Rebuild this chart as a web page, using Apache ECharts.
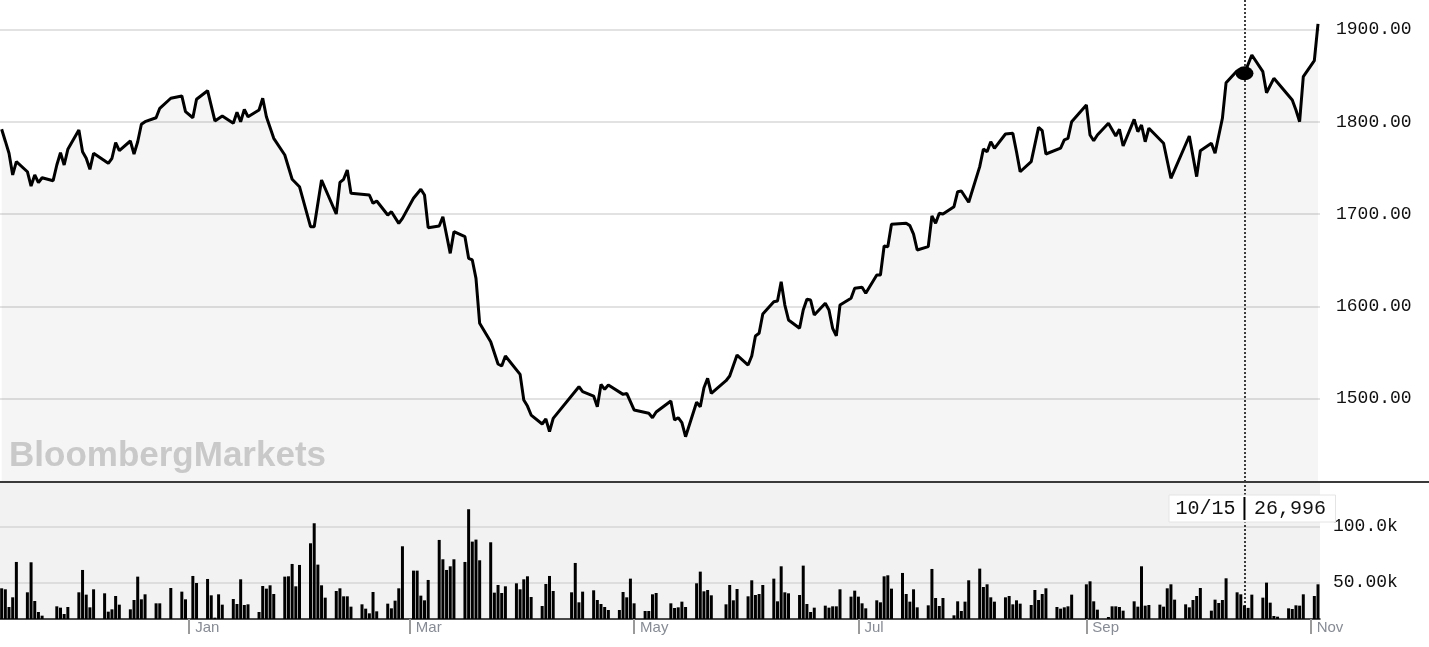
<!DOCTYPE html>
<html><head><meta charset="utf-8">
<script src="https://cdn.jsdelivr.net/npm/echarts@6/dist/echarts.min.js"></script>
<style>html,body{margin:0;padding:0;background:#fff}#c{width:1429px;height:647px}</style>
</head><body><div id="c"></div>
<script>
// ---------- data ----------
const firstMonday = [2019, 10, 11];           // 11 Nov 2019, weeks run Mon..Fri
// closing price per weekday (null = no visible vertex / holiday)
const priceWeeks = [
  [1791.9, 1779.0, 1765.9, 1742.4, 1756.8],
  [1745.9, 1730.4, 1742.4, 1734.0, 1739.4],
  [1736.2, 1753.2, 1766.5, 1753.2, 1770.2],
  [1791.1, 1767.6, 1760.5, 1748.5, 1765.9],
  [null, 1755.0, 1760.5, 1777.4, 1768.7],
  [1779.2, 1765.1, 1778.4, 1797.3, 1800.1],
  [1804.4, 1814.6, null, null, 1825.5],
  [1828.0, 1811.0, null, 1804.4, 1824.4],
  [1833.7, null, 1800.9, null, 1806.3],
  [1798.4, 1810.3, 1800.1, 1813.5, 1805.5],
  [1812.8, 1825.5, 1805.5, null, 1782.1],
  [1764.0, null, 1737.7, null, 1729.7],
  [1686.4, 1686.4, null, 1736.9, null],
  [1700.1, 1734.4, 1737.7, 1747.8, 1722.5],
  [null, null, 1720.7, 1711.7, 1714.2],
  [1699.0, 1702.6, null, 1690.0, 1695.4],
  [1717.1, null, 1726.9, 1720.7, 1685.3],
  [1687.1, 1697.2, null, 1657.5, 1681.0],
  [1675.5, 1652.1, 1650.3, 1630.4, 1581.7],
  [1561.8, null, 1537.6, 1535.4, 1546.3],
  [null, 1526.4, 1498.6, 1492.0, 1482.3],
  [1472.6, 1478.0, 1464.3, 1478.7, null],
  [null, null, null, 1513.0, 1507.6],
  [1502.9, 1491.3, 1515.5, 1510.2, 1514.8],
  [null, 1504.7, 1505.8, null, 1487.8],
  [null, 1484.2, 1479.4, 1485.6, null],
  [1497.5, 1476.9, 1479.4, 1474.0, 1458.8],
  [1496.1, 1491.3, 1511.9, 1522.1, 1505.8],
  [null, 1519.5, 1524.6, null, 1547.3],
  [1536.5, 1546.3, 1568.0, 1570.9, 1591.8],
  [1605.1, 1605.9, 1626.8, 1601.5, 1585.3],
  [1576.3, 1596.1, 1607.7, 1606.9, 1590.7],
  [1603.4, 1596.1, 1576.3, 1568.0, 1601.5],
  [1608.8, 1619.6, null, 1620.7, 1614.2],
  [1634.0, 1634.0, 1665.4, 1664.7, 1688.9],
  [null, 1690.0, 1687.5, 1678.4, 1661.1],
  [1664.7, 1697.9, 1690.0, 1700.9, 1700.1],
  [1708.0, 1724.3, 1725.0, null, 1712.8],
  [1751.4, 1770.5, 1767.6, 1778.4, 1771.3],
  [1786.8, null, 1787.5, 1767.6, 1745.9],
  [1756.8, null, 1794.0, 1790.4, 1765.1],
  [null, 1771.5, 1780.5, 1782.0, 1800.1],
  [null, 1818.2, 1785.7, 1779.5, 1785.7],
  [1798.4, null, 1784.6, 1791.9, 1773.8],
  [1802.7, 1789.3, 1796.5, 1778.4, 1793.0],
  [null, 1776.7, null, 1738.8, null],
  [null, 1784.6, null, 1740.6, 1768.7],
  [1776.7, 1765.9, null, 1803.8, 1842.4],
  [1855.4, null, 1852.5, null, 1872.4],
  [1854.3, 1831.5, null, 1847.1, null],
  [null, 1823.6, 1812.8, 1800.1, 1848.9],
  [1866.2, 1906.0]
];
// volume per weekday, thousands of contracts (null = no bar)
const volumeWeeks = [
  [44.6, 43.7, 27.8, 36.5, 68.3],
  [41.0, 68.0, 33.2, 23.3, 20.0],
  [null, 28.4, 27.2, 21.5, 27.8],
  [41.0, 61.1, 38.9, 27.5, 43.7],
  [40.1, 23.6, 25.7, 37.7, 29.9],
  [25.7, 34.1, 55.1, 34.7, 39.2],
  [31.1, 31.1, null, null, 44.9],
  [41.6, 34.7, null, 55.7, 49.4],
  [53.0, 38.3, 18.2, 39.2, 29.9],
  [35.0, 30.5, 52.7, 29.6, 30.2],
  [23.3, 46.7, 44.3, 47.3, 39.5],
  [55.1, 55.4, 66.5, 46.4, 65.6],
  [85.1, 103.1, 65.9, 47.3, 36.2],
  [42.2, 44.6, 37.4, 37.4, 28.1],
  [30.2, 26.3, 22.1, 41.3, 23.9],
  [30.8, 26.6, 33.5, 44.6, 82.4],
  [60.5, 60.5, 38.0, 33.8, 52.1],
  [88.1, 70.7, 61.1, 64.4, 70.7],
  [68.3, 115.7, 86.6, 88.4, 69.8],
  [86.0, 40.7, 47.6, 40.4, 46.4],
  [49.1, 43.7, 52.7, 55.4, 36.8],
  [28.7, 48.5, 55.7, 42.2, null],
  [null, 41.0, 67.4, 32.0, 41.6],
  [42.8, 34.1, 30.5, 27.8, 25.1],
  [25.1, 41.3, 36.5, 53.3, 31.1],
  [24.2, 24.2, 39.2, 40.4, null],
  [31.1, 26.9, 27.5, 32.6, 27.8],
  [49.1, 59.6, 41.9, 43.1, 38.3],
  [null, 30.2, 47.6, 33.8, 44.0],
  [37.4, 51.8, 38.6, 39.5, 47.6],
  [53.3, 32.9, 64.4, 41.0, 40.1],
  [38.6, 65.0, 30.5, 23.3, 27.2],
  [29.0, 27.2, 28.4, 28.4, 43.7],
  [37.1, 42.5, 37.1, 31.1, 26.6],
  [33.8, 32.0, 55.4, 56.3, 44.3],
  [58.4, 39.5, 32.6, 43.7, 27.5],
  [29.3, 62.0, 35.9, 28.7, 35.9],
  [20.3, 32.9, 24.2, 32.6, 51.8],
  [62.3, 45.8, 48.2, 36.5, 32.6],
  [36.5, 37.7, 30.2, 33.8, 30.8],
  [29.6, 43.1, 34.1, 39.5, 44.6],
  [27.8, 26.3, 27.5, 28.4, 38.9],
  [null, 48.2, 50.9, 32.9, 25.4],
  [18.8, 28.4, 28.4, 27.8, 24.5],
  [32.9, 28.1, 64.4, 29.0, 29.6],
  [29.9, 28.1, 44.6, 48.2, 34.4],
  [30.2, 27.5, 34.1, 37.7, 44.9],
  [24.5, 34.4, 31.4, 34.1, 53.6],
  [41.0, 39.2, 29.3, 26.996, 38.9],
  [36.2, 49.7, 31.7, 19.7, 19.1],
  [26.6, 26.0, 29.3, 29.0, 39.2],
  [37.7, 48.2]
];
const volumeUnit = 1000;
const priceTicks = [1500, 1600, 1700, 1800, 1900];
const volumeTicks = [50000, 100000];
const monthTickDates = ['2020-01-01', '2020-03-01', '2020-05-01', '2020-07-01', '2020-09-01', '2020-11-01'];
const monthTickLabels = ['Jan', 'Mar', 'May', 'Jul', 'Sep', 'Nov'];
const crossDate = '2020-10-14';
const crossLabelDate = '10/15';
const crossLabelVolume = '26,996';
const watermarkText = 'BloombergMarkets';

// ---------- build ----------
function dayTs(k, j) {
  return new Date(firstMonday[0], firstMonday[1], firstMonday[2] + 7 * k + j).getTime();
}
function parseDay(s) {
  const p = s.split('-').map(Number);
  return new Date(p[0], p[1] - 1, p[2]).getTime();
}
const priceData = [], volumeData = [];
priceWeeks.forEach((w, k) => w.forEach((v, j) => { if (v != null) priceData.push([dayTs(k, j), v]); }));
volumeWeeks.forEach((w, k) => w.forEach((v, j) => { if (v != null) volumeData.push([dayTs(k, j), v * volumeUnit]); }));
const monthTs = monthTickDates.map(parseDay);
const crossTs = parseDay(crossDate);
const crossPoint = priceData.find(p => p[0] === crossTs);
const crossPrice = crossPoint ? crossPoint[1] : null;

const xMin = new Date(2019, 10, 10, 13, 12).getTime();
const xMax = new Date(2020, 10, 3, 13, 0).getTime();

const monoFont = '"Liberation Mono", "DejaVu Sans Mono", monospace';
const chart = echarts.init(document.getElementById('c'), null, { renderer: 'canvas' });

function crossLine() {
  return {
    symbol: 'none', silent: true, animation: false,
    label: { show: false },
    lineStyle: { color: '#000', type: [2, 2], width: 1.5 },
    data: [{ xAxis: crossTs }]
  };
}

const option = {
  animation: false,
  backgroundColor: '#fff',
  grid: [
    { left: 0, top: 0, width: 1320, height: 482 },
    { left: 0, top: 482, width: 1320, height: 137, show: true, backgroundColor: '#f2f2f2', borderWidth: 0 }
  ],
  xAxis: [
    { type: 'value', gridIndex: 0, min: xMin, max: xMax, show: false, splitLine: { show: false } },
    {
      type: 'value', gridIndex: 1, min: xMin, max: xMax,
      axisLine: { show: true, onZero: false, lineStyle: { color: '#111', width: 1.5 } },
      axisTick: { show: true, customValues: monthTs, length: 15, lineStyle: { color: '#9a9a9a', width: 2 } },
      axisLabel: {
        customValues: monthTs,
        formatter: function (v) { const i = monthTs.indexOf(v); return i >= 0 ? monthTickLabels[i] : ''; },
        align: 'left', padding: [0, 0, 0, 6], margin: 1,
        color: '#878b94', fontFamily: '"Liberation Sans", Arial, sans-serif', fontSize: 15
      },
      splitLine: { show: false }
    }
  ],
  yAxis: [
    {
      type: 'value', gridIndex: 0, position: 'right', min: 1409.76, max: 1931.96,
      axisLine: { show: false },
      axisTick: { show: false, customValues: priceTicks },
      axisLabel: {
        customValues: priceTicks, formatter: v => v.toFixed(2), margin: 16,
        color: '#111', fontFamily: monoFont, fontSize: 18
      },
      splitLine: { show: true, lineStyle: { color: '#d9d9d9', width: 1.5 } }
    },
    {
      type: 'value', gridIndex: 1, position: 'right', min: 17000, max: 140200,
      axisLine: { show: false },
      axisTick: { show: false, customValues: volumeTicks },
      axisLabel: {
        customValues: volumeTicks, formatter: v => (v / 1000).toPrecision(4) + 'k', margin: 13,
        color: '#111', fontFamily: monoFont, fontSize: 18
      },
      splitLine: { show: true, lineStyle: { color: '#d6d6d6', width: 1.5 } }
    }
  ],
  series: [
    {
      type: 'line', xAxisIndex: 0, yAxisIndex: 0, data: priceData,
      symbol: 'none', connectNulls: true,
      lineStyle: { color: '#000', width: 3 },
      areaStyle: { color: 'rgba(0,0,0,0.055)', origin: 'start' },
      markLine: crossLine(),
      markPoint: {
        symbol: 'circle', symbolSize: [18, 14], silent: true, animation: false,
        itemStyle: { color: '#000' }, label: { show: false },
        data: [{ coord: [crossTs, crossPrice] }]
      },
      z: 3
    },
    {
      type: 'bar', xAxisIndex: 1, yAxisIndex: 1, data: volumeData,
      barWidth: 3, itemStyle: { color: '#000' },
      markLine: crossLine(), z: 3
    }
  ],
  graphic: [
    { id: 'sep', type: 'line', z: 50, shape: { x1: 0, y1: 482, x2: 1429, y2: 482 }, style: { stroke: '#3a3a3a', lineWidth: 2 } },
    { id: 'wm', type: 'text', z: 5, style: { x: 9, y: 456, text: watermarkText, align: 'left', verticalAlign: 'middle', font: 'bold 35px "Liberation Sans", Arial, sans-serif', fill: '#c9c9c9' } }
  ]
};
chart.setOption(option);

const X = chart.convertToPixel({ xAxisIndex: 1 }, crossTs);
chart.setOption({
  graphic: [
    { id: 'tipBox', type: 'rect', z: 60, shape: { x: X - 75.5, y: 495, width: 166.5, height: 27 }, style: { fill: '#fff', stroke: '#e4e4e4', lineWidth: 1 } },
    { id: 'tipDate', type: 'text', z: 61, style: { x: X - 9, y: 509, text: crossLabelDate, align: 'right', verticalAlign: 'middle', font: '20px ' + monoFont, fill: '#111' } },
    { id: 'tipVol', type: 'text', z: 61, style: { x: X + 9.5, y: 509, text: crossLabelVolume, align: 'left', verticalAlign: 'middle', font: '20px ' + monoFont, fill: '#111' } },
    { id: 'tipDiv', type: 'line', z: 61, shape: { x1: X, y1: 497, x2: X, y2: 520 }, style: { stroke: '#000', lineWidth: 2 } }
  ]
});
</script>
</body></html>
